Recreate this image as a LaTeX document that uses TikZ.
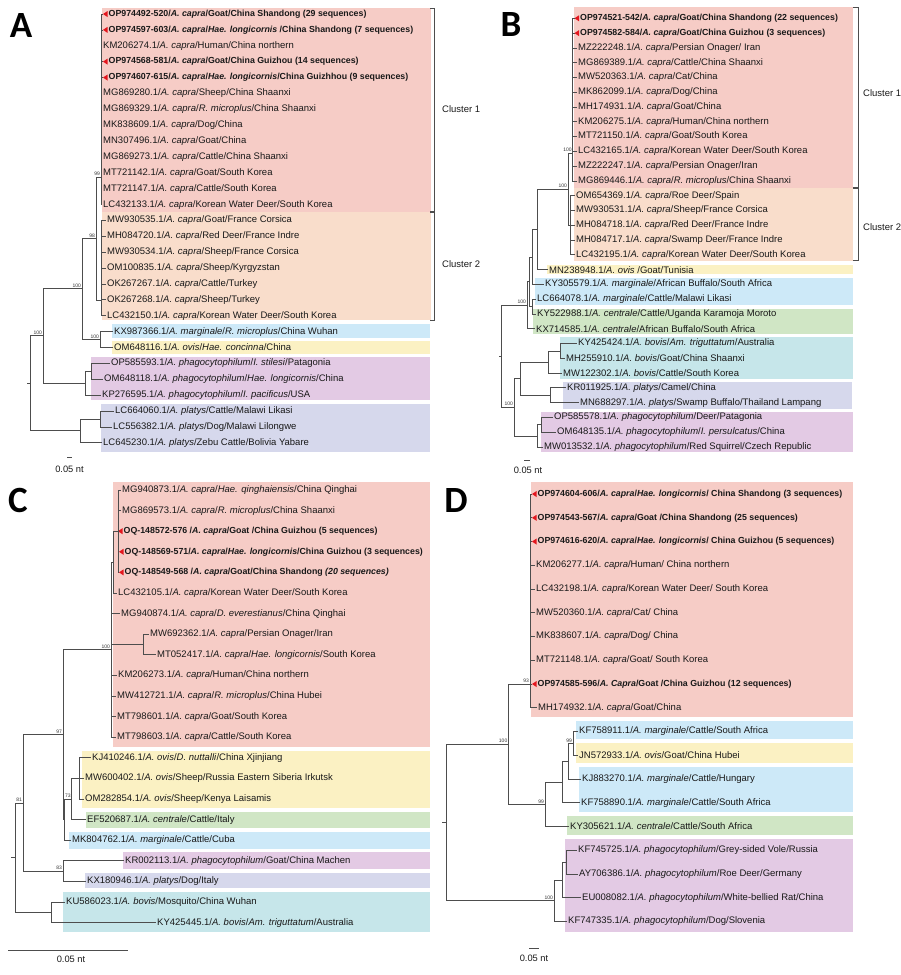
\documentclass[tikz,border=0pt]{standalone}
\usepackage{fontspec}
\setmainfont{Liberation Sans}
\newfontfamily\panelfont{Carlito}
\usetikzlibrary{calc}
\definecolor{capraone}{HTML}{F6CCC6}
\definecolor{capratwo}{HTML}{F9DDCB}
\definecolor{margcol}{HTML}{CDE9F8}
\definecolor{oviscol}{HTML}{FBF1C3}
\definecolor{phagcol}{HTML}{E3CAE4}
\definecolor{platcol}{HTML}{D6D8EC}
\definecolor{centcol}{HTML}{D0E6C5}
\definecolor{boviscol}{HTML}{C6E6EA}
\definecolor{branchcol}{HTML}{4D4D4D}
\definecolor{newseq}{HTML}{E3161E}
\newcommand{\acap}{\textit{A. capra}}
\newcommand{\leaftip}[4]{
	\coordinate (#1) at (#2,#3);
	\node[tiptext] (#1t) at (#1) {#4};
}
\newcommand{\newleaf}[4]{
	\coordinate (#1) at (#2,#3);
	\fill[newseq] (#1) -- ++(4.5,-3) -- ++(0,6) -- cycle;
	\node[newtext] (#1t) at ([xshift=4.5pt]#1) {#4};
}
\newcommand{\bootval}[2]{
	\node[bootlabel] (#1b) at ([xshift=-0.8pt,yshift=1pt]#1) {#2};
}
\tikzset{
	branch/.style={draw=branchcol, line width=0.75pt},
	tiptext/.style={anchor=west, inner xsep=1pt, inner ysep=0pt, text=black!90, font=\fontsize{9.5}{11}\selectfont},
	newtext/.style={tiptext, font=\bfseries\fontsize{8.8}{11}\selectfont},
	bootlabel/.style={anchor=south east, inner sep=0pt, text=black!80, font=\fontsize{5}{6}\selectfont},
	scaletext/.style={inner sep=0pt, text=black!90, font=\fontsize{9.3}{11}\selectfont},
	panel/.style={inner sep=0pt, font=\panelfont\bfseries\fontsize{37}{37}\selectfont},
}

\begin{document}
\begin{tikzpicture}[x=1pt,y=-1pt]
	\useasboundingbox (0,0) rectangle (900,975);

	% ---------- A ----------
	\fill[capraone] (102,8) rectangle (431,212);
	\fill[capratwo] (102,212) rectangle (431,320);
	\fill[margcol] (112,324) rectangle (430,337.5);
	\fill[oviscol] (112,340.5) rectangle (430,354);
	\fill[phagcol] (91,357) rectangle (430,400);
	\fill[platcol] (101,404) rectangle (430,452);
	\node[panel] (pA) at (21,26) {A};

	\newleaf{aT0}{103}{14}{OP974492-520/\acap/Goat/China Shandong (29 sequences)}
	\newleaf{aT1}{103}{29.9}{OP974597-603/\acap/\textit{Hae. longicornis} /China Shandong (7 sequences)}
	\leaftip{aT2}{102}{45.8}{KM206274.1/\acap/Human/China northern}
	\newleaf{aT3}{103}{61.6}{OP974568-581/\acap/Goat/China Guizhou (14 sequences)}
	\newleaf{aT4}{103}{77.5}{OP974607-615/\acap/\textit{Hae. longicornis}/China Guizhhou (9 sequences)}
	\leaftip{aT5}{102}{93.4}{MG869280.1/\acap/Sheep/China Shaanxi}
	\leaftip{aT6}{102}{109.3}{MG869329.1/\acap/\textit{R. microplus}/China Shaanxi}
	\leaftip{aT7}{102}{125.2}{MK838609.1/\acap/Dog/China}
	\leaftip{aT8}{102}{141}{MN307496.1/\acap/Goat/China}
	\leaftip{aT9}{102}{156.9}{MG869273.1/\acap/Cattle/China Shaanxi}
	\leaftip{aT10}{102}{172.8}{MT721142.1/\acap/Goat/South Korea}
	\leaftip{aT11}{102}{188.7}{MT721147.1/\acap/Cattle/South Korea}
	\leaftip{aT12}{102}{204.6}{LC432133.1/\acap/Korean Water Deer/South Korea}
	\leaftip{aT13}{106}{220.4}{MW930535.1/\acap/Goat/France Corsica}
	\leaftip{aT14}{106}{236.3}{MH084720.1/\acap/Red Deer/France Indre}
	\leaftip{aT15}{106}{252.2}{MW930534.1/\acap/Sheep/France Corsica}
	\leaftip{aT16}{106}{268.1}{OM100835.1/\acap/Sheep/Kyrgyzstan}
	\leaftip{aT17}{106}{284}{OK267267.1/\acap/Cattle/Turkey}
	\leaftip{aT18}{106}{299.8}{OK267268.1/\acap/Sheep/Turkey}
	\leaftip{aT19}{106}{315.7}{LC432150.1/\acap/Korean Water Deer/South Korea}
	\leaftip{aT20}{113}{331.6}{KX987366.1/\textit{A. marginale}/\textit{R. microplus}/China Wuhan}
	\leaftip{aT21}{113}{347.5}{OM648116.1/\textit{A. ovis}/\textit{Hae. concinna}/China}
	\leaftip{aT22}{110}{363.4}{OP585593.1/\textit{A. phagocytophilum}/\textit{I. stilesi}/Patagonia}
	\leaftip{aT23}{103}{379.2}{OM648118.1/\textit{A. phagocytophilum}/\textit{Hae. longicornis}/China}
	\leaftip{aT24}{101}{395.1}{KP276595.1/\textit{A. phagocytophilum}/\textit{I. pacificus}/USA}
	\leaftip{aT25}{114}{411}{LC664060.1/\textit{A. platys}/Cattle/Malawi Likasi}
	\leaftip{aT26}{112}{426.9}{LC556382.1/\textit{A. platys}/Dog/Malawi Lilongwe}
	\leaftip{aT27}{102}{442.8}{LC645230.1/\textit{A. platys}/Zebu Cattle/Bolivia Yabare}

	\coordinate (aRs) at (27,383);
	\coordinate (aR) at (30,383);
	\coordinate (aN1) at (43,335.8);
	\coordinate (aN2) at (82,288.7);
	\coordinate (aN3) at (96,238.5);
	\coordinate (aC1) at (101,177);
	\coordinate (aC2) at (101.5,300);
	\coordinate (aMO) at (100,339.5);
	\coordinate (aP) at (85,383);
	\coordinate (aP1) at (91,371.3);
	\coordinate (aL) at (80,430.3);
	\coordinate (aL1) at (100,418.9);

	\draw[branch] (aRs) -- (aR) (aR) |- (aN1) (aR) |- (aL)
		(aN1) |- (aN2) (aN1) |- (aP)
		(aN2) |- (aN3) (aN2) |- (aMO)
		(aN3) |- (aC1) (aN3) |- (aC2)
		(aC1) |- (aT0) (aC1) |- (aT1) (aC1) |- (aT2) (aC1) |- (aT3) (aC1) |- (aT4)
		(aC1) |- (aT5) (aC1) |- (aT6) (aC1) |- (aT7) (aC1) |- (aT8) (aC1) |- (aT9)
		(aC1) |- (aT10) (aC1) |- (aT11) (aC1) |- (aT12)
		(aC2) |- (aT13) (aC2) |- (aT14) (aC2) |- (aT15) (aC2) |- (aT16)
		(aC2) |- (aT17) (aC2) |- (aT18) (aC2) |- (aT19)
		(aMO) |- (aT20) (aMO) |- (aT21)
		(aP) |- (aP1) (aP) |- (aT24) (aP1) |- (aT22) (aP1) |- (aT23)
		(aL) |- (aL1) (aL) |- (aT27) (aL1) |- (aT25) (aL1) |- (aT26);

	\bootval{aN1}{100}
	\bootval{aN2}{100}
	\bootval{aN3}{98}
	\bootval{aC1}{99}
	\bootval{aMO}{100}

	\coordinate (aB1a) at (430,8);
	\coordinate (aB1b) at (430,211.5);
	\coordinate (aB2a) at (430,212.5);
	\coordinate (aB2b) at (430,320);
	\draw[branch] (aB1a) -- ++(4,0) |- (aB1b);
	\draw[branch] (aB2a) -- ++(4,0) |- (aB2b);
	\node[tiptext] (aCl1) at (441,109) {Cluster 1};
	\node[tiptext] (aCl2) at (441,264) {Cluster 2};

	\coordinate (aS1) at (67,457);
	\coordinate (aS2) at (72,457);
	\draw[branch] (aS1) -- (aS2);
	\node[scaletext] (aSt) at (69.5,469) {0.05 nt};

	% ---------- B ----------
	\fill[capraone] (574,7) rectangle (853,188);
	\fill[capratwo] (574,188) rectangle (853,260.7);
	\fill[oviscol] (547,264.5) rectangle (853,274);
	\fill[margcol] (535,277.7) rectangle (853,305);
	\fill[centcol] (533,308.5) rectangle (853,333.5);
	\fill[boviscol] (560,337) rectangle (853,378.5);
	\fill[platcol] (563,381.5) rectangle (852,408.5);
	\fill[phagcol] (541,412) rectangle (853,452);
	\node[panel] (pB) at (511,25) {B};

	\newleaf{bT0}{574.5}{18.3}{OP974521-542/\acap/Goat/China Shandong (22 sequences)}
	\newleaf{bT1}{574.5}{33.1}{OP974582-584/\acap/Goat/China Guizhou (3 sequences)}
	\leaftip{bT2}{577}{47.9}{MZ222248.1/\acap/Persian Onager/ Iran}
	\leaftip{bT3}{577}{62.6}{MG869389.1/\acap/Cattle/China Shaanxi}
	\leaftip{bT4}{577}{77.4}{MW520363.1/\acap/Cat/China}
	\leaftip{bT5}{577}{92.2}{MK862099.1/\acap/Dog/China}
	\leaftip{bT6}{577}{107}{MH174931.1/\acap/Goat/China}
	\leaftip{bT7}{577}{121.8}{KM206275.1/\acap/Human/China northern}
	\leaftip{bT8}{577}{136.5}{MT721150.1/\acap/Goat/South Korea}
	\leaftip{bT9}{577}{151.3}{LC432165.1/\acap/Korean Water Deer/South Korea}
	\leaftip{bT10}{577}{166.1}{MZ222247.1/\acap/Persian Onager/Iran}
	\leaftip{bT11}{577}{180.9}{MG869446.1/\acap/\textit{R. microplus}/China Shaanxi}
	\leaftip{bT12}{575}{195.7}{OM654369.1/\acap/Roe Deer/Spain}
	\leaftip{bT13}{575}{210.4}{MW930531.1/\acap/Sheep/France Corsica}
	\leaftip{bT14}{575}{225.2}{MH084718.1/\acap/Red Deer/France Indre}
	\leaftip{bT15}{575}{240}{MH084717.1/\acap/Swamp Deer/France Indre}
	\leaftip{bT16}{575}{254.8}{LC432195.1/\acap/Korean Water Deer/South Korea}
	\leaftip{bT17}{548}{269.6}{MN238948.1/\textit{A. ovis} /Goat/Tunisia}
	\leaftip{bT18}{544}{284.3}{KY305579.1/\textit{A. marginale}/African Buffalo/South Africa}
	\leaftip{bT19}{536}{299.1}{LC664078.1/\textit{A. marginale}/Cattle/Malawi Likasi}
	\leaftip{bT20}{536}{313.9}{KY522988.1/\textit{A. centrale}/Cattle/Uganda Karamoja Moroto}
	\leaftip{bT21}{535}{328.7}{KX714585.1/\textit{A. centrale}/African Buffalo/South Africa}
	\leaftip{bT22}{577}{343.5}{KY425424.1/\textit{A. bovis}/\textit{Am. triguttatum}/Australia}
	\leaftip{bT23}{565}{358.2}{MH255910.1/\textit{A. bovis}/Goat/China Shaanxi}
	\leaftip{bT24}{562}{373}{MW122302.1/\textit{A. bovis}/Cattle/South Korea}
	\leaftip{bT25}{566}{387.8}{KR011925.1/\textit{A. platys}/Camel/China}
	\leaftip{bT26}{579}{402.6}{MN688297.1/\textit{A. platys}/Swamp Buffalo/Thailand Lampang}
	\leaftip{bT27}{553}{417.4}{OP585578.1/\textit{A. phagocytophilum}/Deer/Patagonia}
	\leaftip{bT28}{556}{432.1}{OM648135.1/\textit{A. phagocytophilum}/\textit{I. persulcatus}/China}
	\leaftip{bT29}{543}{446.9}{MW013532.1/\textit{A. phagocytophilum}/Red Squirrel/Czech Republic}

	\coordinate (bRs) at (499,356.2);
	\coordinate (bR) at (501.7,356.2);
	\coordinate (bU) at (527,305.2);
	\coordinate (bV) at (529.5,281.7);
	\coordinate (bN4) at (532,306.5);
	\coordinate (bW) at (532,256.9);
	\coordinate (bX) at (537,229.4);
	\coordinate (bCap) at (568,189.1);
	\coordinate (bC1) at (572.7,153);
	\coordinate (bC2) at (570.5,225.2);
	\coordinate (bL) at (514,407.2);
	\coordinate (bM) at (520,378.6);
	\coordinate (bBo) at (548,362);
	\coordinate (bBo1) at (560,350.9);
	\coordinate (bPl) at (550,395.2);
	\coordinate (bPh) at (537,435.9);
	\coordinate (bPh1) at (541,424.8);

	\draw[branch] (bRs) -- (bR) (bR) |- (bU) (bR) |- (bL)
		(bU) |- (bV) (bU) |- (bT21)
		(bV) |- (bW) (bV) |- (bN4)
		(bN4) |- (bT19) (bN4) |- (bT20)
		(bW) |- (bX) (bW) |- (bT18)
		(bX) |- (bCap) (bX) |- (bT17)
		(bCap) |- (bC1) (bCap) |- (bC2)
		(bC1) |- (bT0) (bC1) |- (bT1) (bC1) |- (bT2) (bC1) |- (bT3) (bC1) |- (bT4) (bC1) |- (bT5)
		(bC1) |- (bT6) (bC1) |- (bT7) (bC1) |- (bT8) (bC1) |- (bT9) (bC1) |- (bT10) (bC1) |- (bT11)
		(bC2) |- (bT12) (bC2) |- (bT13) (bC2) |- (bT14) (bC2) |- (bT15) (bC2) |- (bT16)
		(bL) |- (bM) (bL) |- (bPh)
		(bM) |- (bBo) (bM) |- (bPl)
		(bBo) |- (bBo1) (bBo) |- (bT24) (bBo1) |- (bT22) (bBo1) |- (bT23)
		(bPl) |- (bT25) (bPl) |- (bT26)
		(bPh) |- (bPh1) (bPh) |- (bT29) (bPh1) |- (bT27) (bPh1) |- (bT28);

	\bootval{bCap}{100}
	\bootval{bC1}{100}
	\bootval{bU}{100}
	\bootval{bL}{100}

	\coordinate (bB1a) at (853,7);
	\coordinate (bB1b) at (853,187.5);
	\coordinate (bB2a) at (853,188.5);
	\coordinate (bB2b) at (853,260.7);
	\draw[branch] (bB1a) -- ++(5,0) |- (bB1b);
	\draw[branch] (bB2a) -- ++(5,0) |- (bB2b);
	\node[tiptext] (bCl1) at (862,93) {Cluster 1};
	\node[tiptext] (bCl2) at (862,227) {Cluster 2};

	\coordinate (bS1) at (524,460.7);
	\coordinate (bS2) at (530,460.7);
	\draw[branch] (bS1) -- (bS2);
	\node[scaletext] (bSt) at (528,470.7) {0.05 nt};

	% ---------- C ----------
	\fill[capraone] (113,482) rectangle (430,747.3);
	\fill[oviscol] (82,751) rectangle (430,808);
	\fill[centcol] (86,811.7) rectangle (430,828.3);
	\fill[margcol] (69,831.7) rectangle (430,849.3);
	\fill[phagcol] (123,852.3) rectangle (430,869);
	\fill[platcol] (85,873.3) rectangle (430,888.3);
	\fill[boviscol] (63,891.7) rectangle (430,932.3);
	\node[panel] (pC) at (18,500) {C};

	\leaftip{cT0}{121}{490}{MG940873.1/\acap/\textit{Hae. qinghaiensis}/China Qinghai}
	\leaftip{cT1}{121}{510.6}{MG869573.1/\acap/\textit{R. microplus}/China Shaanxi}
	\newleaf{cT2}{118}{531.2}{OQ-148572-576 /\acap/Goat /China Guizhou (5 sequences)}
	\newleaf{cT3}{119}{551.8}{OQ-148569-571/\acap /\textit{Hae. longicornis}/China Guizhou (3 sequences)}
	\newleaf{cT4}{119}{572.4}{OQ-148549-568 /\acap /Goat/China Shandong \textit{(20 sequences)}}
	\leaftip{cT5}{117}{593}{LC432105.1/\acap/Korean Water Deer/South Korea}
	\leaftip{cT6}{120}{613.6}{MG940874.1/\acap/\textit{D. everestianus}/China Qinghai}
	\leaftip{cT7}{149}{634.2}{MW692362.1/\acap/Persian Onager/Iran}
	\leaftip{cT8}{156}{654.8}{MT052417.1/\acap/\textit{Hae. longicornis}/South Korea}
	\leaftip{cT9}{117}{675.4}{KM206273.1/\acap/Human/China northern}
	\leaftip{cT10}{116}{696}{MW412721.1/\acap/\textit{R. microplus}/China Hubei}
	\leaftip{cT11}{116}{716.6}{MT798601.1/\acap/Goat/South Korea}
	\leaftip{cT12}{116}{737.2}{MT798603.1/\acap/Cattle/South Korea}
	\leaftip{cT13}{91}{757.8}{KJ410246.1/\textit{A. ovis}/\textit{D. nuttalli}/China Xjinjiang}
	\leaftip{cT14}{84}{778.4}{MW600402.1/\textit{A. ovis}/Sheep/Russia Eastern Siberia Irkutsk}
	\leaftip{cT15}{84}{799}{OM282854.1/\textit{A. ovis}/Sheep/Kenya Laisamis}
	\leaftip{cT16}{86}{819.6}{EF520687.1/\textit{A. centrale}/Cattle/Italy}
	\leaftip{cT17}{71}{840.2}{MK804762.1/\textit{A. marginale}/Cattle/Cuba}
	\leaftip{cT18}{124}{860.8}{KR002113.1/\textit{A. phagocytophilum}/Goat/China Machen}
	\leaftip{cT19}{86}{881.4}{KX180946.1/\textit{A. platys}/Dog/Italy}
	\leaftip{cT20}{65}{902}{KU586023.1/\textit{A. bovis}/Mosquito/China Wuhan}
	\leaftip{cT21}{156}{922.6}{KY425445.1/\textit{A. bovis}/\textit{Am. triguttatum}/Australia}

	\coordinate (cRs) at (11,857.6);
	\coordinate (cR) at (15,857.6);
	\coordinate (c81) at (23,802.9);
	\coordinate (c97) at (63,734.7);
	\coordinate (cZ) at (64,819.6);
	\coordinate (c73) at (71.7,799);
	\coordinate (cOv) at (79,778.4);
	\coordinate (c83) at (63,871.1);
	\coordinate (cBo) at (51,912.3);
	\coordinate (cCap) at (111,649.7);
	\coordinate (cS1) at (113,562.1);
	\coordinate (cS1a) at (118,531.2);
	\coordinate (cOn) at (143,644.5);

	\draw[branch] (cRs) -- (cR) (cR) |- (c81) (cR) |- (cBo)
		(c81) |- (c97) (c81) |- (c83)
		(c97) |- (cCap) (c97) |- (cZ)
		(cZ) |- (c73) (cZ) |- (cT17)
		(c73) |- (cOv) (c73) |- (cT16)
		(cOv) |- (cT13) (cOv) |- (cT14) (cOv) |- (cT15)
		(c83) |- (cT18) (c83) |- (cT19)
		(cBo) |- (cT20) (cBo) |- (cT21)
		(cCap) |- (cS1) (cCap) |- (cT6) (cCap) |- (cOn) (cCap) |- (cT9)
		(cCap) |- (cT10) (cCap) |- (cT11) (cCap) |- (cT12)
		(cS1) |- (cS1a) (cS1) |- (cT5)
		(cS1a) |- (cT0) (cS1a) |- (cT1) (cS1a) |- (cT2) (cS1a) |- (cT3) (cS1a) |- (cT4)
		(cOn) |- (cT7) (cOn) |- (cT8);

	\bootval{cCap}{100}
	\bootval{c97}{97}
	\bootval{c81}{81}
	\bootval{c73}{73}
	\bootval{c83}{83}

	\coordinate (cS1b) at (8,950);
	\coordinate (cS2b) at (128,950);
	\draw[branch] (cS1b) -- (cS2b);
	\node[scaletext] (cSt) at (71,959.3) {0.05 nt};

	% ---------- D ----------
	\fill[capraone] (531,481.7) rectangle (853,716.7);
	\fill[margcol] (576,720.5) rectangle (853,739.3);
	\fill[oviscol] (576,743.3) rectangle (853,763.3);
	\fill[margcol] (579,767.3) rectangle (853,811.7);
	\fill[centcol] (567,816) rectangle (853,835);
	\fill[phagcol] (565,839) rectangle (853,932);
	\node[panel] (pD) at (456,500) {D};

	\newleaf{dT0}{532}{494}{OP974604-606/\acap/\textit{Hae. longicornis}/ China Shandong (3 sequences)}
	\newleaf{dT1}{532}{517.75}{OP974543-567/\acap/Goat /China Shandong (25 sequences)}
	\newleaf{dT2}{532}{541.5}{OP974616-620/\acap/\textit{Hae. longicornis}/ China Guizhou (5 sequences)}
	\leaftip{dT3}{535}{565.25}{KM206277.1/\acap/Human/ China northern}
	\leaftip{dT4}{535}{589}{LC432198.1/\acap/Korean Water Deer/ South Korea}
	\leaftip{dT5}{535}{612.75}{MW520360.1/\acap/Cat/ China}
	\leaftip{dT6}{535}{636.5}{MK838607.1/\acap/Dog/ China}
	\leaftip{dT7}{535}{660.25}{MT721148.1/\acap/Goat/ South Korea}
	\newleaf{dT8}{532}{684}{OP974585-596/\textit{A. Capra}/Goat /China Guizhou (12 sequences)}
	\leaftip{dT9}{537}{707.75}{MH174932.1/\acap/Goat/China}
	\leaftip{dT10}{578}{731.5}{KF758911.1/\textit{A. marginale}/Cattle/South Africa}
	\leaftip{dT11}{578}{755.25}{JN572933.1/\textit{A. ovis}/Goat/China Hubei}
	\leaftip{dT12}{581}{779}{KJ883270.1/\textit{A. marginale}/Cattle/Hungary}
	\leaftip{dT13}{580}{802.75}{KF758890.1/\textit{A. marginale}/Cattle/South Africa}
	\leaftip{dT14}{569}{826.5}{KY305621.1/\textit{A. centrale}/Cattle/South Africa}
	\leaftip{dT15}{577}{850.25}{KF745725.1/\textit{A. phagocytophilum}/Grey-sided Vole/Russia}
	\leaftip{dT16}{578}{874}{AY706386.1/\textit{A. phagocytophilum}/Roe Deer/Germany}
	\leaftip{dT17}{581}{897.75}{EU008082.1/\textit{A. phagocytophilum}/White-bellied Rat/China}
	\leaftip{dT18}{567}{921.5}{KF747335.1/\textit{A. phagocytophilum}/Dog/Slovenia}

	\coordinate (dRs) at (442,822.4);
	\coordinate (dR) at (446.7,822.4);
	\coordinate (d100) at (508.3,744.1);
	\coordinate (dCap) at (530,684);
	\coordinate (d99a) at (545,804.25);
	\coordinate (dM1) at (562,782);
	\coordinate (dM2) at (568,761.2);
	\coordinate (d99b) at (573,743.4);
	\coordinate (dPh) at (554,900.7);
	\coordinate (dPh1) at (562,879.9);
	\coordinate (dPh2) at (566,862.1);

	\draw[branch] (dRs) -- (dR) (dR) |- (d100) (dR) |- (dPh)
		(d100) |- (dCap) (d100) |- (d99a)
		(dCap) |- (dT0) (dCap) |- (dT1) (dCap) |- (dT2) (dCap) |- (dT3) (dCap) |- (dT4)
		(dCap) |- (dT5) (dCap) |- (dT6) (dCap) |- (dT7) (dCap) |- (dT8) (dCap) |- (dT9)
		(d99a) |- (dM1) (d99a) |- (dT14)
		(dM1) |- (dM2) (dM1) |- (dT13)
		(dM2) |- (d99b) (dM2) |- (dT12)
		(d99b) |- (dT10) (d99b) |- (dT11)
		(dPh) |- (dPh1) (dPh) |- (dT18)
		(dPh1) |- (dPh2) (dPh1) |- (dT17)
		(dPh2) |- (dT15) (dPh2) |- (dT16);

	\bootval{dCap}{93}
	\bootval{d100}{100}
	\bootval{d99a}{99}
	\bootval{d99b}{99}
	\bootval{dPh}{100}

	\coordinate (dS1) at (529,948.7);
	\coordinate (dS2) at (539,948.7);
	\draw[branch] (dS1) -- (dS2);
	\node[scaletext] (dSt) at (534,958.7) {0.05 nt};

\end{tikzpicture}
\end{document}
